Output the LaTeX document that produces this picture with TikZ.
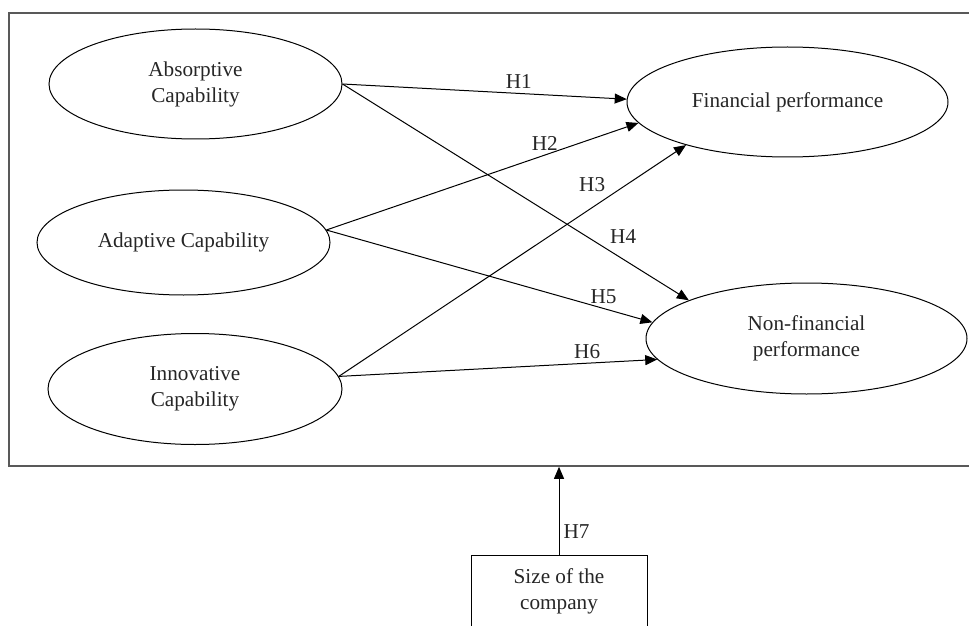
\documentclass[tikz,border=0pt]{standalone}
\usepackage{fontspec}
\setmainfont{Liberation Serif}
\usetikzlibrary{positioning,shapes.geometric,arrows.meta}

\begin{document}
\begin{tikzpicture}[
    x=0.5pt, y=-0.5pt,
    font=\fontsize{10.6}{13}\selectfont,
    construct/.style={draw, ellipse, line width=0.5pt, inner sep=0pt, align=center, text=black!85},
    hyp/.style={-{Triangle[length=6pt,width=5pt]}, line width=0.5pt},
    hlabel/.style={text=black!85, inner sep=2pt}
]
    \useasboundingbox (0,0) rectangle (969,626);
    \clip (0,0) rectangle (969,626);

    % outer frame
    \node[draw=black!65, line width=0.8pt, minimum width=483pt, minimum height=226.5pt, inner sep=0pt] (frame) at (492,239.5) {};

    % capabilities
    \node[construct, minimum width=146.5pt, minimum height=55pt] (abs) at (195.5,84) {Absorptive\\Capability};
    \node[construct, minimum width=146.5pt, minimum height=52.5pt] (adp) at (183.5,242.5) {Adaptive Capability};
    \node[construct, minimum width=147pt, minimum height=55.5pt] (inn) at (195,389) {Innovative\\Capability};

    % performance
    \node[construct, minimum width=160.5pt, minimum height=55pt] (fin) at (787.5,102) {Financial performance};
    \node[construct, minimum width=160.5pt, minimum height=55.5pt] (nfin) at (806.5,338.5) {Non-financial\\performance};

    % moderator
    \node[draw, line width=0.5pt, minimum width=88pt, minimum height=36pt, align=center, text=black!85] (size) at (559,591) {Size of the\\company};

    \draw[hyp] (abs.east) -- (fin.179) node[hlabel, above, pos=0.62] {H1};
    \draw[hyp] (adp.5) -- (fin.188) node[hlabel, above, pos=0.70] {H2};
    \draw[hyp] (inn.5) -- (fin.203) node[hlabel, above left, pos=0.78] {H3};
    \draw[hyp] (abs.east) -- (nfin.162) node[hlabel, above right, pos=0.76] {H4};
    \draw[hyp] (adp.5) -- (nfin.174) node[hlabel, above, pos=0.85] {H5};
    \draw[hyp] (inn.5) -- (nfin.188) node[hlabel, above, pos=0.78] {H6};
    \draw[hyp] (size.north) -- (size.north |- frame.south) node[hlabel, right, pos=0.26] {H7};
\end{tikzpicture}
\end{document}
